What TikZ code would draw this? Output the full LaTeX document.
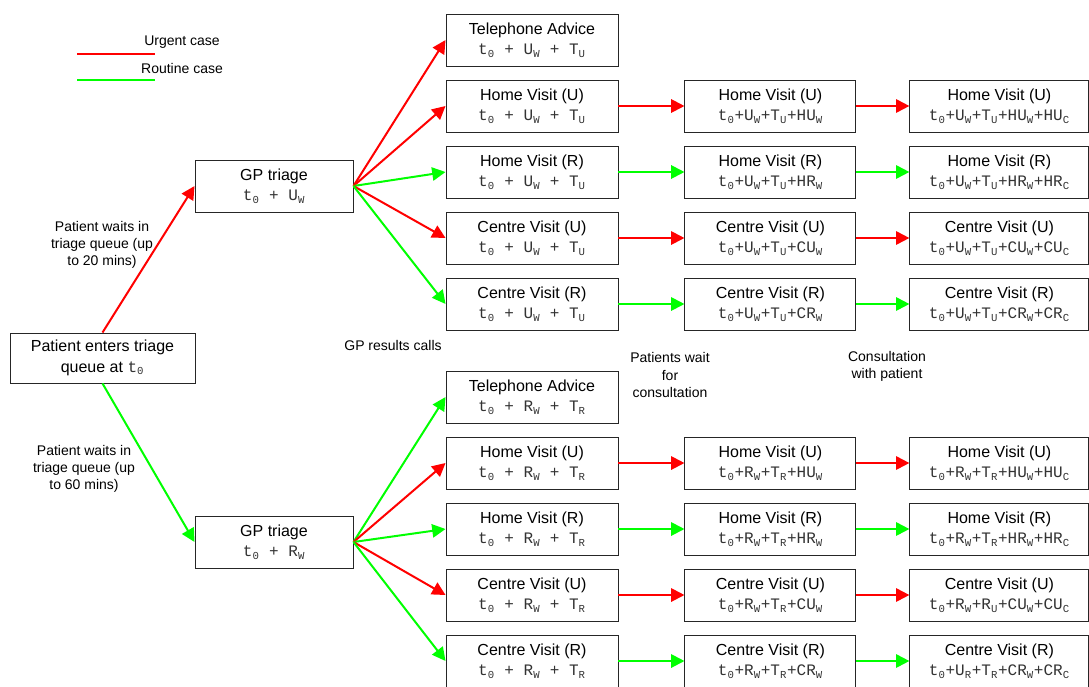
\documentclass[tikz,border=0pt]{standalone}
\usepackage{fontspec}
\setmainfont{Liberation Sans}
\setmonofont{Liberation Mono}
\usepackage{tikz}
\usetikzlibrary{arrows.meta,positioning}

\newcommand{\fml}[1]{{\ttfamily\color{black!80}#1}}
\newcommand{\sbs}[1]{\textsubscript{#1}}

\begin{document}
\begin{tikzpicture}[
    x=0.75pt, y=-0.75pt,
    box/.style={rectangle, draw=black!85, line width=0.7pt, minimum height=39pt, align=center, inner sep=2pt, font=\fontsize{12}{15.5}\selectfont},
    colA/.style={box, minimum width=129pt},
    colB/.style={box, minimum width=128.25pt},
    colC/.style={box, minimum width=134.25pt},
    note/.style={align=center, font=\fontsize{10.5}{13}\selectfont},
    urgent/.style={-{Triangle[length=10pt,width=10pt]}, red, line width=1.5pt},
    routine/.style={urgent, green}
]
\useasboundingbox (0,0) rectangle (1089,686);
% legend
\coordinate (lgUa) at (77,54);
\coordinate (lgUb) at (155,54);
\coordinate (lgRa) at (77,80);
\coordinate (lgRb) at (155,80);
\node[note] (lgU) at (182,42) {Urgent case};
\node[note] (lgR) at (182,68) {Routine case};
\draw[red, line width=1.5pt] (lgUa) -- (lgUb);
\draw[green, line width=1.5pt] (lgRa) -- (lgRb);
% entry and triage
\node[box, minimum width=138.75pt, minimum height=37.5pt] (start) at (102.5,358) {Patient enters triage\\queue at \fml{t\sbs{0}}};
\node[box, minimum width=118.5pt] (gpU) at (274,186) {GP triage\\\fml{t\sbs{0} + U\sbs{W}}};
\node[box, minimum width=118.5pt] (gpR) at (274,542) {GP triage\\\fml{t\sbs{0} + R\sbs{W}}};
\node[note] (waitU) at (102,245) {Patient waits in\\triage queue (up\\to 20 mins)};
\node[note] (waitR) at (84,469) {Patient waits in\\triage queue (up\\to 60 mins)};
\node[note] (calls) at (393,345) {GP results calls};
\node[note] (waitC) at (670,375) {Patients wait\\for\\consultation};
\node[note] (consult) at (887,366.5) {Consultation\\with patient};
% urgent branch
\node[colA] (uTel) at (532,40) {Telephone Advice\\\fml{t\sbs{0} + U\sbs{W} + T\sbs{U}}};
\node[colA, below=9.8pt of uTel] (uHU1) {Home Visit (U)\\\fml{t\sbs{0} + U\sbs{W} + T\sbs{U}}};
\node[colA, below=9.8pt of uHU1] (uHR1) {Home Visit (R)\\\fml{t\sbs{0} + U\sbs{W} + T\sbs{U}}};
\node[colA, below=9.8pt of uHR1] (uCU1) {Centre Visit (U)\\\fml{t\sbs{0} + U\sbs{W} + T\sbs{U}}};
\node[colA, below=9.8pt of uCU1] (uCR1) {Centre Visit (R)\\\fml{t\sbs{0} + U\sbs{W} + T\sbs{U}}};
\node[colB, right=49.5pt of uHU1] (uHU2) {Home Visit (U)\\\fml{t\sbs{0}+U\sbs{W}+T\sbs{U}+HU\sbs{W}}};
\node[colB, right=49.5pt of uHR1] (uHR2) {Home Visit (R)\\\fml{t\sbs{0}+U\sbs{W}+T\sbs{U}+HR\sbs{W}}};
\node[colB, right=49.5pt of uCU1] (uCU2) {Centre Visit (U)\\\fml{t\sbs{0}+U\sbs{W}+T\sbs{U}+CU\sbs{W}}};
\node[colB, right=49.5pt of uCR1] (uCR2) {Centre Visit (R)\\\fml{t\sbs{0}+U\sbs{W}+T\sbs{U}+CR\sbs{W}}};
\node[colC, right=39.75pt of uHU2] (uHU3) {Home Visit (U)\\\fml{t\sbs{0}+U\sbs{W}+T\sbs{U}+HU\sbs{W}+HU\sbs{C}}};
\node[colC, right=39.75pt of uHR2] (uHR3) {Home Visit (R)\\\fml{t\sbs{0}+U\sbs{W}+T\sbs{U}+HR\sbs{W}+HR\sbs{C}}};
\node[colC, right=39.75pt of uCU2] (uCU3) {Centre Visit (U)\\\fml{t\sbs{0}+U\sbs{W}+T\sbs{U}+CU\sbs{W}+CU\sbs{C}}};
\node[colC, right=39.75pt of uCR2] (uCR3) {Centre Visit (R)\\\fml{t\sbs{0}+U\sbs{W}+T\sbs{U}+CR\sbs{W}+CR\sbs{C}}};
% routine branch
\node[colA] (rTel) at (532,397) {Telephone Advice\\\fml{t\sbs{0} + R\sbs{W} + T\sbs{R}}};
\node[colA, below=9.8pt of rTel] (rHU1) {Home Visit (U)\\\fml{t\sbs{0} + R\sbs{W} + T\sbs{R}}};
\node[colA, below=9.8pt of rHU1] (rHR1) {Home Visit (R)\\\fml{t\sbs{0} + R\sbs{W} + T\sbs{R}}};
\node[colA, below=9.8pt of rHR1] (rCU1) {Centre Visit (U)\\\fml{t\sbs{0} + R\sbs{W} + T\sbs{R}}};
\node[colA, below=9.8pt of rCU1] (rCR1) {Centre Visit (R)\\\fml{t\sbs{0} + R\sbs{W} + T\sbs{R}}};
\node[colB, right=49.5pt of rHU1] (rHU2) {Home Visit (U)\\\fml{t\sbs{0}+R\sbs{W}+T\sbs{R}+HU\sbs{W}}};
\node[colB, right=49.5pt of rHR1] (rHR2) {Home Visit (R)\\\fml{t\sbs{0}+R\sbs{W}+T\sbs{R}+HR\sbs{W}}};
\node[colB, right=49.5pt of rCU1] (rCU2) {Centre Visit (U)\\\fml{t\sbs{0}+R\sbs{W}+T\sbs{R}+CU\sbs{W}}};
\node[colB, right=49.5pt of rCR1] (rCR2) {Centre Visit (R)\\\fml{t\sbs{0}+R\sbs{W}+T\sbs{R}+CR\sbs{W}}};
\node[colC, right=39.75pt of rHU2] (rHU3) {Home Visit (U)\\\fml{t\sbs{0}+R\sbs{W}+T\sbs{R}+HU\sbs{W}+HU\sbs{C}}};
\node[colC, right=39.75pt of rHR2] (rHR3) {Home Visit (R)\\\fml{t\sbs{0}+R\sbs{W}+T\sbs{R}+HR\sbs{W}+HR\sbs{C}}};
\node[colC, right=39.75pt of rCU2] (rCU3) {Centre Visit (U)\\\fml{t\sbs{0}+R\sbs{W}+R\sbs{U}+CU\sbs{W}+CU\sbs{C}}};
\node[colC, right=39.75pt of rCR2] (rCR3) {Centre Visit (R)\\\fml{t\sbs{0}+U\sbs{R}+T\sbs{R}+CR\sbs{W}+CR\sbs{C}}};
% connectors
\draw[urgent] (start.north) -- (gpU.west);
\draw[routine] (start.south) -- (gpR.west);
\draw[urgent] (gpU.east) -- (uTel.west);
\draw[urgent] (gpU.east) -- (uHU1.west);
\draw[routine] (gpU.east) -- (uHR1.west);
\draw[urgent] (gpU.east) -- (uCU1.west);
\draw[routine] (gpU.east) -- (uCR1.west);
\draw[urgent] (uHU1) -- (uHU2);
\draw[routine] (uHR1) -- (uHR2);
\draw[urgent] (uCU1) -- (uCU2);
\draw[routine] (uCR1) -- (uCR2);
\draw[urgent] (uHU2) -- (uHU3);
\draw[routine] (uHR2) -- (uHR3);
\draw[urgent] (uCU2) -- (uCU3);
\draw[routine] (uCR2) -- (uCR3);
\draw[routine] (gpR.east) -- (rTel.west);
\draw[urgent] (gpR.east) -- (rHU1.west);
\draw[routine] (gpR.east) -- (rHR1.west);
\draw[urgent] (gpR.east) -- (rCU1.west);
\draw[routine] (gpR.east) -- (rCR1.west);
\draw[urgent] (rHU1) -- (rHU2);
\draw[routine] (rHR1) -- (rHR2);
\draw[urgent] (rCU1) -- (rCU2);
\draw[routine] (rCR1) -- (rCR2);
\draw[urgent] (rHU2) -- (rHU3);
\draw[routine] (rHR2) -- (rHR3);
\draw[urgent] (rCU2) -- (rCU3);
\draw[routine] (rCR2) -- (rCR3);
\end{tikzpicture}
\end{document}
